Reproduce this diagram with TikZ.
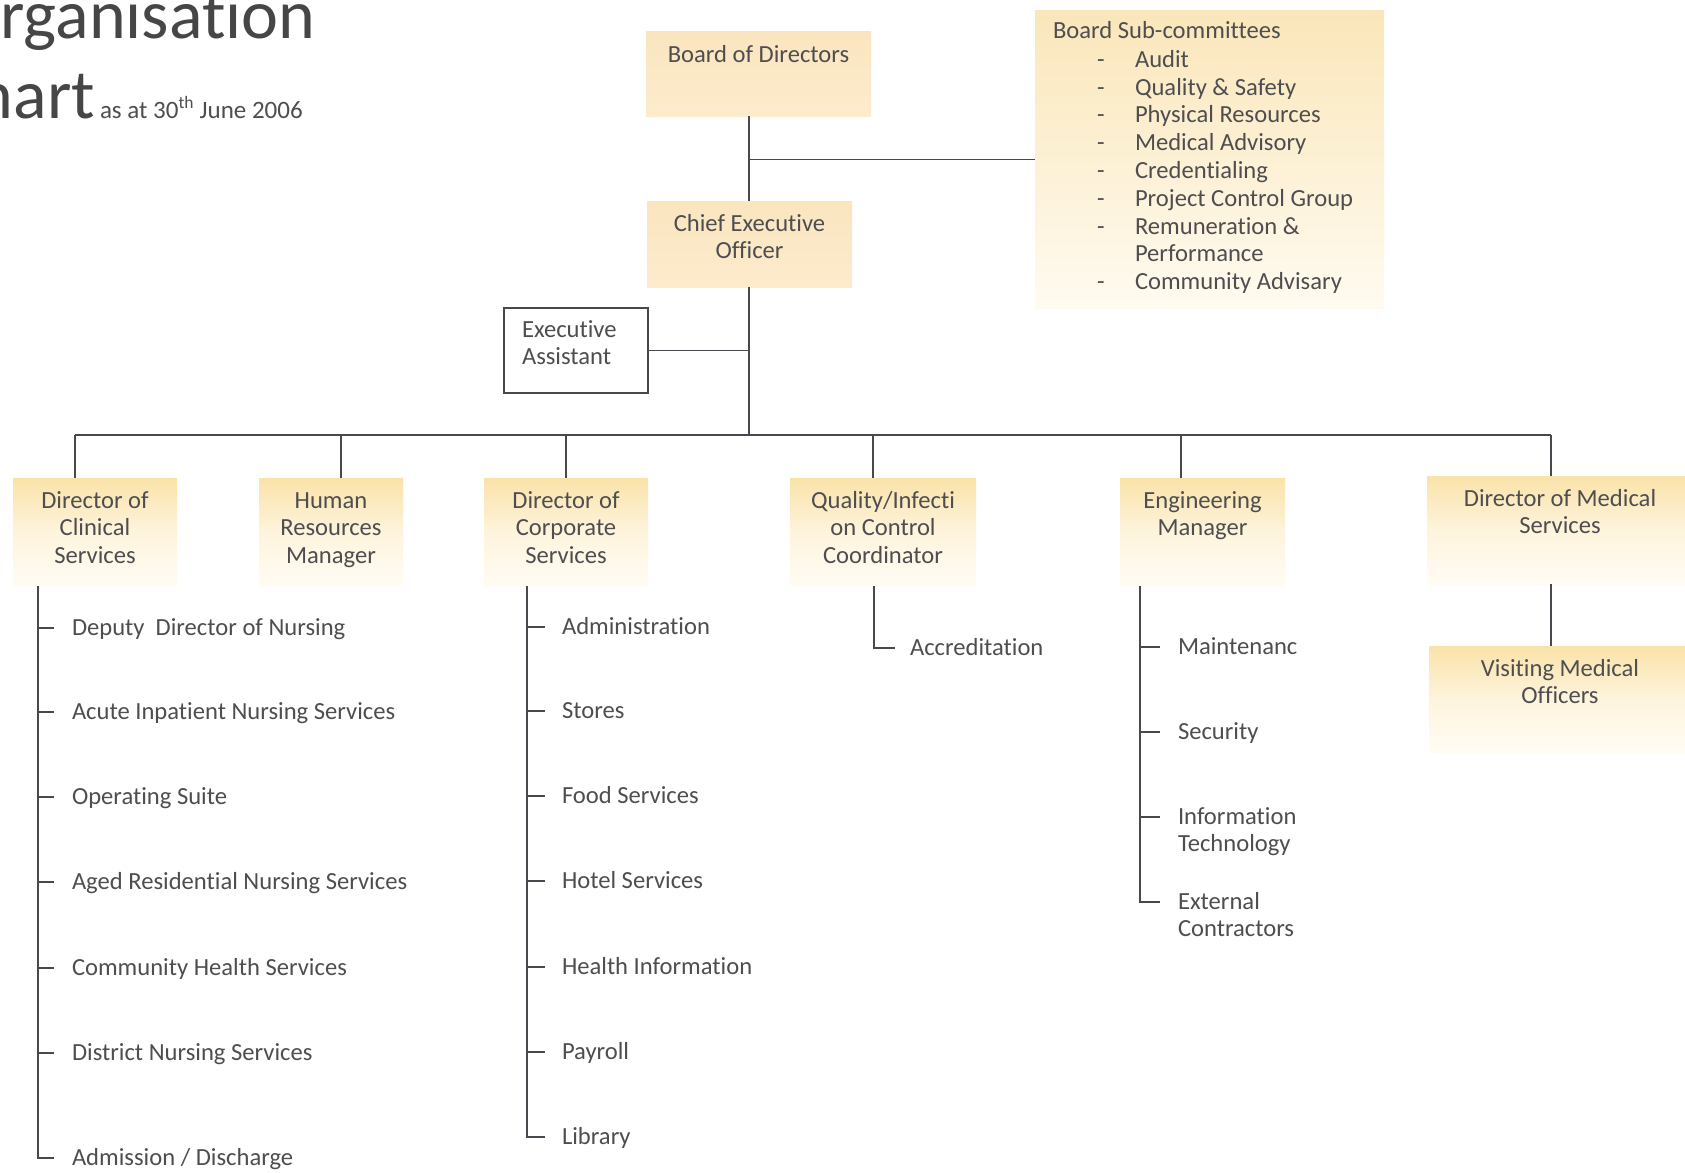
\documentclass[tikz,border=0pt]{standalone}
\usepackage{fontspec}
\setmainfont{Carlito}[Ligatures={NoCommon}]
\usetikzlibrary{calc}
\definecolor{txtgray}{RGB}{78,78,80}
\definecolor{linegray}{RGB}{72,72,78}
\definecolor{boxtop}{RGB}{250,226,168}
\definecolor{boxbot}{RGB}{255,252,244}
\definecolor{bodfill}{RGB}{250,229,190}
\definecolor{bodbot}{RGB}{252,235,205}
\definecolor{bsctop}{RGB}{250,230,186}
\definecolor{bscbot}{RGB}{255,251,240}
\newcommand\chartfont{\fontsize{24.6}{27.5}\selectfont}
\newcommand\titlefont{\fontsize{70}{80}\selectfont}
\newcommand\tbox[3]{\parbox[c][#1][t]{#2}{\centering\vspace*{11pt}\strut #3}}
\tikzset{
  x=1pt, y=-1pt,
  every node/.style={font=\chartfont, text=txtgray, inner sep=0pt, outer sep=0pt},
  conn/.style={draw=linegray, line width=1.7pt},
  softbox/.style={shading=axis, top color=boxtop, bottom color=boxbot, middle color=boxbot!70!boxtop},
  bodbox/.style={shading=axis, top color=bodfill, bottom color=bodbot},
  bscbox/.style={shading=axis, top color=bsctop, bottom color=bscbot, shading angle=0},
  itemtxt/.style={anchor=base west},
  multitxt/.style={anchor=north west, align=left},
}
\begin{document}
\begin{tikzpicture}
\useasboundingbox (0,0) rectangle (1685,1172);
\fill[white] (0,0) rectangle (1685,1172);

% Title
\node[anchor=base west, font=\titlefont, text=txtgray!90!black] (t1) at (-46,38) {Organisation};
\node[anchor=base east, font=\titlefont, text=txtgray!90!black] (t2) at (95,118) {Chart};
\node[anchor=base west, font=\fontsize{25}{30}\selectfont] (t3) at (100,118) {as at 30\textsuperscript{th} June 2006};

% Top boxes
\node[bodbox] (bod) at (758.5,74) {\tbox{84pt}{225pt}{Board of Directors}};
\node[bodbox] (ceo) at (749.5,244) {\tbox{86pt}{205pt}{Chief Executive\\Officer}};
\node[bscbox, minimum width=349pt, minimum height=297pt] (bsc) at (1209.5,159.5) {};
\node[draw=linegray, line width=1.2pt, fill=white, minimum width=144pt, minimum height=85pt] (ea) at (576,350.5) {};
\node[multitxt] (eatxt) at (522,318) {\strut Executive\\Assistant};

% Sub-committee list
\node[itemtxt] (bsch) at (1053,39) {Board Sub-committees};
\foreach \y/\t [count=\i] in {67/Audit, 95/Quality \& Safety, 122/Physical Resources, 150/Medical Advisory, 178/Credentialing, 206/Project Control Group, 234/Remuneration \&, 289/Community Advisary}{
  \node[itemtxt] (bscd\i) at (1097,\y) {-};
  \node[itemtxt] (bsci\i) at (1135,\y) {\t};
}
\node[itemtxt] (bscperf) at (1135,261) {Performance};

% Second-level boxes
\node[softbox] (dcs) at (95,532) {\tbox{108pt}{164pt}{Director of\\Clinical\\Services}};
\node[softbox] (hrm) at (331,532) {\tbox{108pt}{144pt}{Human\\Resources\\Manager}};
\node[softbox] (dcorp) at (566,532) {\tbox{108pt}{164pt}{Director of\\Corporate\\Services}};
\node[softbox] (qic) at (883,532) {\tbox{108pt}{186pt}{Quality/Infecti\\on Control\\Coordinator}};
\node[softbox] (eng) at (1202.5,532) {\tbox{108pt}{165pt}{Engineering\\Manager}};
\node[softbox] (dms) at (1560,530) {\tbox{108pt}{266pt}{Director of Medical\\Services}};
\node[softbox] (vmo) at (1560,699) {\tbox{106pt}{262pt}{Visiting Medical\\Officers}};

% Top connectors
\draw[conn] (bod.south -| 749,0) -- (ceo.north -| 749,0);
\draw[conn] (749,159.5) -- (bsc.west);
\draw[conn] (ceo.south -| 749,0) -- (749,435);
\draw[conn] (ea.east) -- (749,350.5);
\draw[conn] (75,435) -- (1551,435);
\draw[conn] (75,435) -- (dcs.north -| 75,0);
\draw[conn] (341,435) -- (hrm.north -| 341,0);
\draw[conn] (566,435) -- (dcorp.north);
\draw[conn] (873,435) -- (qic.north -| 873,0);
\draw[conn] (1181,435) -- (eng.north -| 1181,0);
\draw[conn] (1551,435) -- (dms.north -| 1551,0);
\draw[conn] (dms.south -| 1551,0) -- (vmo.north -| 1551,0);

% Clinical list
\coordinate (clend) at (38,1158);
\draw[conn] (dcs.south -| clend) -- (clend) -- ++(16,0);
\foreach \y/\t [count=\i] in {628/Deputy\ \ Director of Nursing, 712/Acute Inpatient Nursing Services, 797/Operating Suite, 882/Aged Residential Nursing Services, 968/Community Health Services, 1053/District Nursing Services}{
  \draw[conn] (38,\y) -- (54,\y);
  \node[itemtxt] (cl\i) at (72,\y+7) {\t};
}
\node[itemtxt] (cl7) at (72,1165) {Admission / Discharge};

% Corporate list
\coordinate (coend) at (527,1137);
\draw[conn] (dcorp.south -| coend) -- (coend) -- ++(18,0);
\foreach \y/\t [count=\i] in {627/Administration, 711/Stores, 796/Food Services, 881/Hotel Services, 967/Health Information, 1052/Payroll}{
  \draw[conn] (527,\y) -- (545,\y);
  \node[itemtxt] (co\i) at (562,\y+7) {\t};
}
\node[itemtxt] (co7) at (562,1144) {Library};

% Quality list
\coordinate (qend) at (874,648);
\draw[conn] (qic.south -| qend) -- (qend) -- ++(21,0);
\node[itemtxt] (acc) at (910,655) {Accreditation};

% Engineering list
\coordinate (eend) at (1140,902);
\draw[conn] (eng.south -| eend) -- (eend) -- ++(20,0);
\foreach \y in {647,732,817}{
  \draw[conn] (1140,\y) -- (1160,\y);
}
\node[itemtxt] (en1) at (1178,654) {Maintenanc};
\node[itemtxt] (en2) at (1178,739) {Security};
\node[multitxt] (en3) at (1178,804.75) {\strut Information\\Technology};
\node[multitxt] (en4) at (1178,889.75) {\strut External\\Contractors};
\end{tikzpicture}
\end{document}
